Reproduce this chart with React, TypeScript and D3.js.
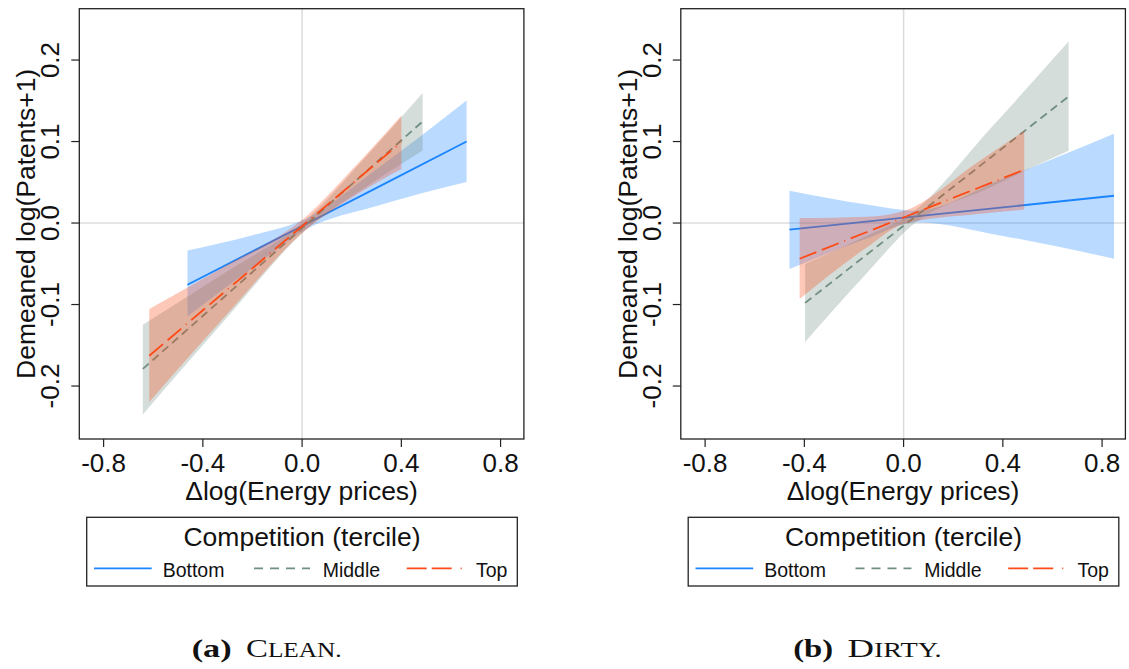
import React from 'react';
import * as d3 from 'd3';

// ---------- data ----------
const xTicks = [-0.8, -0.4, 0, 0.4, 0.8];
const xTickLabels = ['-0.8', '-0.4', '0.0', '0.4', '0.8'];
const yTicks = [-0.2, -0.1, 0, 0.1, 0.2];
const yTickLabels = ['-0.2', '-0.1', '0.0', '0.1', '0.2'];
const seriesNames = ['Bottom', 'Middle', 'Top'];
const legendTitle = 'Competition (tercile)';
const xTitle = '\u0394log(Energy prices)';
const yTitle = 'Demeaned log(Patents+1)';
const panelTags = ['(a)', '(b)'];
const panelNames = ['Clean.', 'Dirty.'];

// Panel (a) Clean
const cleanBottomX = [-0.462, -0.2, 0.02, 0.3, 0.663];
const cleanBottomY = [-0.0757, -0.0348, -0.0005, 0.0432, 0.1001];
const cleanBottomLo = [-0.1146, -0.055, -0.007, 0.021, 0.0503];
const cleanBottomHi = [-0.0336, -0.015, 0.006, 0.066, 0.1504];

const cleanMiddleX = [-0.642, -0.3, 0.02, 0.25, 0.486];
const cleanMiddleY = [-0.179, -0.087, -0.0009, 0.061, 0.1247];
const cleanMiddleLo = [-0.235, -0.115, -0.007, 0.043, 0.0891];
const cleanMiddleHi = [-0.1248, -0.059, 0.005, 0.079, 0.1595];

const cleanTopX = [-0.616, -0.3, 0.02, 0.2, 0.4];
const cleanTopY = [-0.1628, -0.0813, 0.0013, 0.0477, 0.0993];
const cleanTopLo = [-0.2196, -0.111, -0.007, 0.031, 0.0663];
const cleanTopHi = [-0.1055, -0.051, 0.009, 0.065, 0.132];

// Panel (b) Dirty
const dirtyBottomX = [-0.46, -0.15, 0.05, 0.4, 0.848];
const dirtyBottomY = [-0.0082, 0.0017, 0.0081, 0.0192, 0.0335];
const dirtyBottomLo = [-0.0565, -0.0193, 0.0011, -0.0158, -0.0438];
const dirtyBottomHi = [0.0396, 0.0227, 0.0151, 0.0542, 0.1096];

const dirtyMiddleX = [-0.397, -0.15, 0.03, 0.35, 0.665];
const dirtyMiddleY = [-0.098, -0.0391, 0.0038, 0.0802, 0.1553];
const dirtyMiddleLo = [-0.146, -0.062, -0.004, 0.044, 0.0887];
const dirtyMiddleHi = [-0.05, -0.016, 0.012, 0.116, 0.2228];

const dirtyTopX = [-0.419, -0.15, 0.0, 0.3, 0.486];
const dirtyTopY = [-0.0438, -0.0113, 0.0068, 0.043, 0.0654];
const dirtyTopLo = [-0.0933, -0.0303, -0.0012, 0.011, 0.0163];
const dirtyTopHi = [0.0061, 0.0077, 0.0148, 0.075, 0.1133];

// ---------- styling ----------
const COLORS = ['#1a85ff', '#6f8f80', '#fd4a16'];
const DASHES = ['none', '8,5', '18,6,18,6,1,6'];
const LEGEND_DASHES = ['none', '9,7', '20,5,20,9,1,60'];
const SANS = '"Liberation Sans", Arial, Helvetica, sans-serif';
const SERIF = '"Liberation Serif", "Times New Roman", serif';

const X_DOMAIN = [-0.898, 0.894];
const Y_DOMAIN = [-0.265, 0.263];
const PANEL_OFFSETS = [0, 601.5];

type Series = { x: number[]; y: number[]; lo: number[]; hi: number[] };

const panels: Series[][] = [
  [
    { x: cleanBottomX, y: cleanBottomY, lo: cleanBottomLo, hi: cleanBottomHi },
    { x: cleanMiddleX, y: cleanMiddleY, lo: cleanMiddleLo, hi: cleanMiddleHi },
    { x: cleanTopX, y: cleanTopY, lo: cleanTopLo, hi: cleanTopHi },
  ],
  [
    { x: dirtyBottomX, y: dirtyBottomY, lo: dirtyBottomLo, hi: dirtyBottomHi },
    { x: dirtyMiddleX, y: dirtyMiddleY, lo: dirtyMiddleLo, hi: dirtyMiddleHi },
    { x: dirtyTopX, y: dirtyTopY, lo: dirtyTopLo, hi: dirtyTopHi },
  ],
];

function Panel({ idx }: { idx: number }) {
  const off = PANEL_OFFSETS[idx];
  const left = 79.3 + off;
  const right = 523.9 + off;
  const top = 8.7;
  const bottom = 439;
  const x = d3.scaleLinear().domain(X_DOMAIN).range([left, right]);
  const y = d3.scaleLinear().domain(Y_DOMAIN).range([bottom, top]);
  const series = panels[idx];

  const area = (s: Series) =>
    d3
      .area<number>()
      .x((_, i) => x(s.x[i]))
      .y0((_, i) => y(s.lo[i]))
      .y1((_, i) => y(s.hi[i]))
      .curve(d3.curveMonotoneX)(s.x.map((_, i) => i)) as string;
  const line = (s: Series) =>
    d3
      .line<number>()
      .x((_, i) => x(s.x[i]))
      .y((_, i) => y(s.y[i]))(s.x.map((_, i) => i)) as string;

  const cx = (left + right) / 2;
  const cy = (top + bottom) / 2;
  const legL = 86.7 + off;
  const legT = 517.3;
  const itemOffsets = [
    { l0: 7.3, l1: 65, t: 76 },
    { l0: 167.3, l1: 223.3, t: 236 },
    { l0: 320, l1: 376.6, t: 389.3 },
  ];
  const capX = 191.7 + off;
  const name = panelNames[idx];

  return (
    <g>
      {/* zero reference lines */}
      <line x1={x(0)} x2={x(0)} y1={top} y2={bottom} stroke="#dcdcdc" strokeWidth={1.5} />
      <line x1={left} x2={right} y1={y(0)} y2={y(0)} stroke="#dcdcdc" strokeWidth={1.5} />

      {series.map((s, i) => (
        <g key={i}>
          <path d={area(s)} fill={COLORS[i]} fillOpacity={0.3} stroke="none" />
          <path
            d={line(s)}
            fill="none"
            stroke={COLORS[i]}
            strokeWidth={1.8}
            strokeDasharray={DASHES[i]}
          />
        </g>
      ))}

      {/* frame */}
      <rect x={left} y={top} width={right - left} height={bottom - top} fill="none" stroke="#222" strokeWidth={1.3} />

      {/* x axis */}
      {xTicks.map((t, i) => (
        <g key={'xt' + i}>
          <line x1={x(t)} x2={x(t)} y1={bottom} y2={bottom + 8} stroke="#222" strokeWidth={1.2} />
          <text x={x(t)} y={471.5} textAnchor="middle" fontSize={26} fontFamily={SANS} fill="#111">
            {xTickLabels[i]}
          </text>
        </g>
      ))}
      <text x={cx} y={499.5} textAnchor="middle" fontSize={26.5} fontFamily={SANS} fill="#111">
        {xTitle}
      </text>

      {/* y axis */}
      {yTicks.map((t, i) => (
        <g key={'yt' + i}>
          <line x1={left - 8} x2={left} y1={y(t)} y2={y(t)} stroke="#222" strokeWidth={1.2} />
          <text
            transform={`translate(${59 + off},${y(t)}) rotate(-90)`}
            textAnchor="middle"
            fontSize={26}
            fontFamily={SANS}
            fill="#111"
          >
            {yTickLabels[i]}
          </text>
        </g>
      ))}
      <text
        transform={`translate(${35 + off},${cy}) rotate(-90)`}
        textAnchor="middle"
        fontSize={26.5}
        fontFamily={SANS}
        fill="#111"
      >
        {yTitle}
      </text>

      {/* legend */}
      <rect x={legL} y={legT} width={430.6} height={68.7} fill="#fff" stroke="#222" strokeWidth={1.3} />
      <text x={legL + 215.3} y={546} textAnchor="middle" fontSize={26.5} fontFamily={SANS} fill="#111">
        {legendTitle}
      </text>
      {seriesNames.map((n, i) => (
        <g key={'lg' + i}>
          <line
            x1={legL + itemOffsets[i].l0}
            x2={legL + itemOffsets[i].l1}
            y1={568.3}
            y2={568.3}
            stroke={COLORS[i]}
            strokeWidth={1.8}
            strokeDasharray={LEGEND_DASHES[i]}
          />
          <text x={legL + itemOffsets[i].t} y={576.7} fontSize={19.5} fontFamily={SANS} fill="#111">
            {n}
          </text>
        </g>
      ))}

      {/* caption */}
      <text
        x={capX}
        y={656.7}
        fontSize={26}
        fontWeight="bold"
        fontFamily={SERIF}
        fill="#111"
        textLength={40}
        lengthAdjust="spacingAndGlyphs"
      >
        {panelTags[idx]}
      </text>
      <text
        x={capX + 54.3}
        y={656.7}
        fontFamily={SERIF}
        fill="#111"
        textLength={idx === 0 ? 95.7 : 94}
        lengthAdjust="spacingAndGlyphs"
      >
        <tspan fontSize={26}>{name.slice(0, 1)}</tspan>
        <tspan fontSize={20}>{name.slice(1).toUpperCase()}</tspan>
      </text>
    </g>
  );
}

export default function App() {
  return (
    <svg
      width={1129}
      height={669}
      viewBox="0 0 1129 669"
      style={{ position: 'absolute', left: 0, top: 0, background: '#fff' }}
    >
      <rect x={0} y={0} width={1129} height={669} fill="#fff" />
      <Panel idx={0} />
      <Panel idx={1} />
    </svg>
  );
}
